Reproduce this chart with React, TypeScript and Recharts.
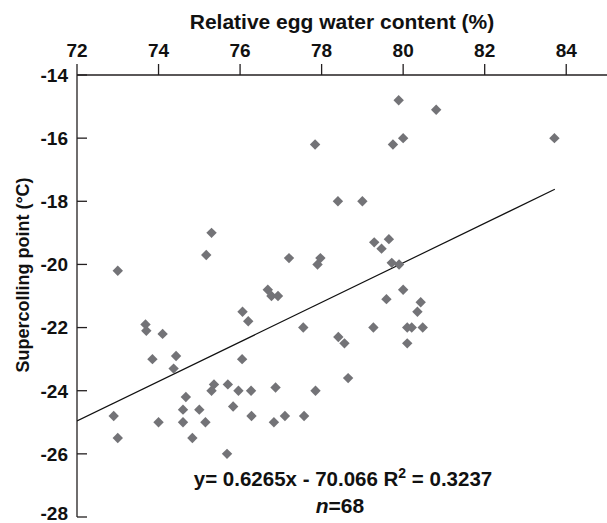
import { ScatterChart, Scatter, XAxis, YAxis } from 'recharts'

const waterContent = [
  73.0, 72.9, 73.0, 73.68, 73.7, 73.85, 74.0, 74.1, 74.37, 74.43, 74.6, 74.6, 74.67, 74.83,
  75.0, 75.15, 75.17, 75.3, 75.3, 75.36, 75.68, 75.7, 75.83, 75.96, 76.05, 76.06, 76.2,
  76.27, 76.28, 76.68, 76.77, 76.93, 76.83, 76.87, 77.1, 77.2, 77.55, 77.57, 77.84, 77.85,
  77.9, 77.97, 78.4, 78.41, 78.56, 78.65, 79.0, 79.27, 79.29, 79.47, 79.59, 79.65, 79.72,
  79.75, 79.89, 79.9, 80.0, 80.0, 80.1, 80.1, 80.21, 80.35, 80.43, 80.48, 80.81, 83.71,
]
const supercooling = [
  -20.2, -24.8, -25.5, -21.9, -22.1, -23.0, -25.0, -22.2, -23.3, -22.9, -25.0, -24.6, -24.2,
  -25.5, -24.6, -25.0, -19.7, -19.0, -24.0, -23.8, -26.0, -23.8, -24.5, -24.0, -23.0, -21.5,
  -21.8, -24.0, -24.8, -20.8, -21.0, -21.0, -25.0, -23.9, -24.8, -19.8, -22.0, -24.8, -16.2,
  -24.0, -20.0, -19.8, -18.0, -22.3, -22.5, -23.6, -18.0, -22.0, -19.3, -19.5, -21.1, -19.2,
  -19.95, -16.2, -14.8, -20.0, -16.0, -20.8, -22.0, -22.5, -22.0, -21.5, -21.2, -22.0, -15.1,
  -16.0,
]
const trendX = [72, 83.72]
const trendY = [-24.96, -17.62]
const xTicks = [72, 74, 76, 78, 80, 82, 84]
const yTicks = [-28, -26, -24, -22, -20, -18, -16, -14]

const points = waterContent.map((x, i) => ({ x, y: supercooling[i] }))
const trend = trendX.map((x, i) => ({ x, y: trendY[i] }))

const font = "'Liberation Sans', Arial, Helvetica, sans-serif"
const ink = '#111'
const axisColor = '#231f20'

function Diamond(props: any) {
  const { cx, cy } = props
  const r = 5.2
  return (
    <path
      d={`M${cx},${cy - r}L${cx + r},${cy}L${cx},${cy + r}L${cx - r},${cy}Z`}
      fill="#737377"
    />
  )
}

function XTick(props: any) {
  const { x, y, payload } = props
  return (
    <text
      x={x}
      y={y}
      textAnchor="middle"
      fill={ink}
      fontSize={19}
      fontWeight="bold"
      fontFamily={font}
    >
      {payload.value}
    </text>
  )
}

function YTick(props: any) {
  const { x, y, payload } = props
  // the lowest label sits a little higher so it stays inside the picture
  const lift = payload.value === yTicks[0] ? 3.5 : 0
  return (
    <g>
      <line x1={x + 9} x2={x + 19} y1={y} y2={y} stroke={axisColor} strokeWidth={1.3} />
      <text
        x={x}
        y={y - lift}
        dy="0.36em"
        textAnchor="end"
        fill={ink}
        fontSize={19}
        fontWeight="bold"
        fontFamily={font}
      >
        {payload.value}
      </text>
    </g>
  )
}

export default function App() {
  return (
    <div style={{ position: 'absolute', left: 0, top: 0, width: 607, height: 523, background: '#fff' }}>
      <ScatterChart width={607} height={523} margin={{ top: 35, right: 0, bottom: 6, left: 0 }}>
        <XAxis
          type="number"
          dataKey="x"
          orientation="top"
          domain={[72, 85]}
          ticks={xTicks}
          interval={0}
          height={40}
          tickSize={11}
          tickMargin={7}
          stroke={axisColor}
          strokeWidth={1.3}
          tick={<XTick />}
          allowDataOverflow
        />
        <YAxis
          type="number"
          dataKey="y"
          domain={[-28, -14]}
          ticks={yTicks}
          interval={0}
          width={77}
          tickSize={0}
          tickMargin={9}
          tickLine={false}
          stroke={axisColor}
          strokeWidth={1.3}
          tick={<YTick />}
          allowDataOverflow
        />
        <Scatter
          data={trend}
          line={{ stroke: ink, strokeWidth: 1.2 }}
          shape={() => <g />}
          legendType="none"
          isAnimationActive={false}
        />
        <Scatter data={points} shape={<Diamond />} isAnimationActive={false} />
      </ScatterChart>
      <svg
        width={607}
        height={523}
        style={{ position: 'absolute', left: 0, top: 0, pointerEvents: 'none' }}
      >
        <text x={342} y={29} textAnchor="middle" fill={ink} fontSize={21} fontWeight="bold" fontFamily={font}>
          Relative egg water content (%)
        </text>
        <text
          x={29}
          y={275}
          transform="rotate(-90 29 275)"
          textAnchor="middle"
          fill={ink}
          fontSize={18}
          fontWeight="bold"
          fontFamily={font}
        >
          Supercolling point (°C)
        </text>
        <text x={343} y={486} textAnchor="middle" fill={ink} fontSize={20.5} fontWeight="bold" fontFamily={font}>
          y= 0.6265x - 70.066 R
          <tspan dy={-8} fontSize={14}>2</tspan>
          <tspan dy={8}> = 0.3237</tspan>
        </text>
        <text x={340} y={513} textAnchor="middle" fill={ink} fontSize={21} fontWeight="bold" fontFamily={font}>
          <tspan fontStyle="italic">n</tspan>=68
        </text>
      </svg>
    </div>
  )
}
